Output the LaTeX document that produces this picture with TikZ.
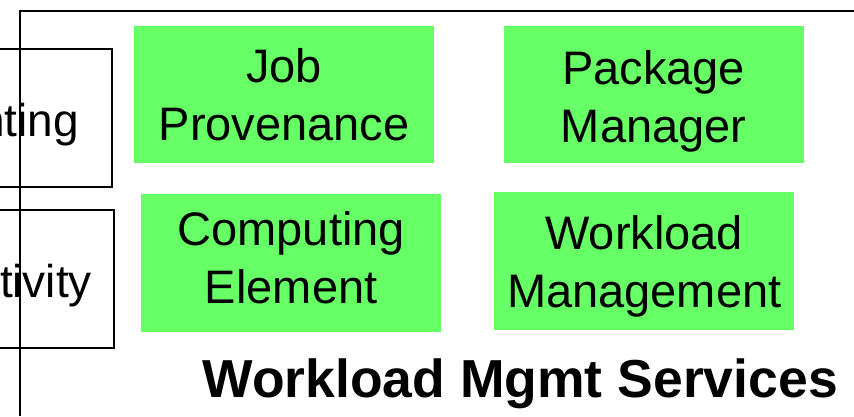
\documentclass[tikz,border=0pt]{standalone}
\usepackage{fontspec}
\setmainfont{Liberation Sans}
\usetikzlibrary{positioning}
\definecolor{boxgreen}{HTML}{66FF66}

\begin{document}
\begin{tikzpicture}[
    x=1pt, y=-1pt,
    service/.style={fill=boxgreen, minimum width=300pt, align=center, inner sep=0pt, text height=#1, text depth=137pt-#1, font=\fontsize{47}{58}\selectfont},
    service/.default=115pt,
    sidebox/.style={draw, line width=2pt, fill=white, minimum width=170pt, align=right, inner sep=0pt, text height=87pt, text depth=51pt, font=\fontsize{46}{58}\selectfont},
    frame/.style={line width=2pt}
  ]
    \useasboundingbox (0,0) rectangle (854,416);
    \clip (0,0) rectangle (854,416);

    % Side boxes (cut at the left edge)
    \node[sidebox, anchor=north east, text width=104pt] (accounting) at (113,48) {nting};
    \node[sidebox, anchor=north east, text width=126pt] (connectivity) at (115,209) {tivity};

    % Service frame
    \coordinate (framecorner) at (20,11);
    \draw[frame] (20,416) -- (framecorner) -- (854,11);

    % Services
    \node[service=114pt, anchor=north west] (jobprov) at (134,26) {Job\\Provenance};
    \node[service=116pt, right=69pt of jobprov] (pkgmgr) {Package\\Manager};
    \node[service=109pt, anchor=north west, text depth=29pt] (compelem) at (141,194) {Computing\\Element};
    \node[service=115pt, anchor=north west, text depth=23pt] (wlmgmt) at (494,192) {Workload\\Management};

    % Title
    \node[anchor=base east, inner sep=0pt, font=\fontsize{53.5}{60}\selectfont\bfseries] (title) at (838,397) {Workload Mgmt Services};
  \end{tikzpicture}
\end{document}
